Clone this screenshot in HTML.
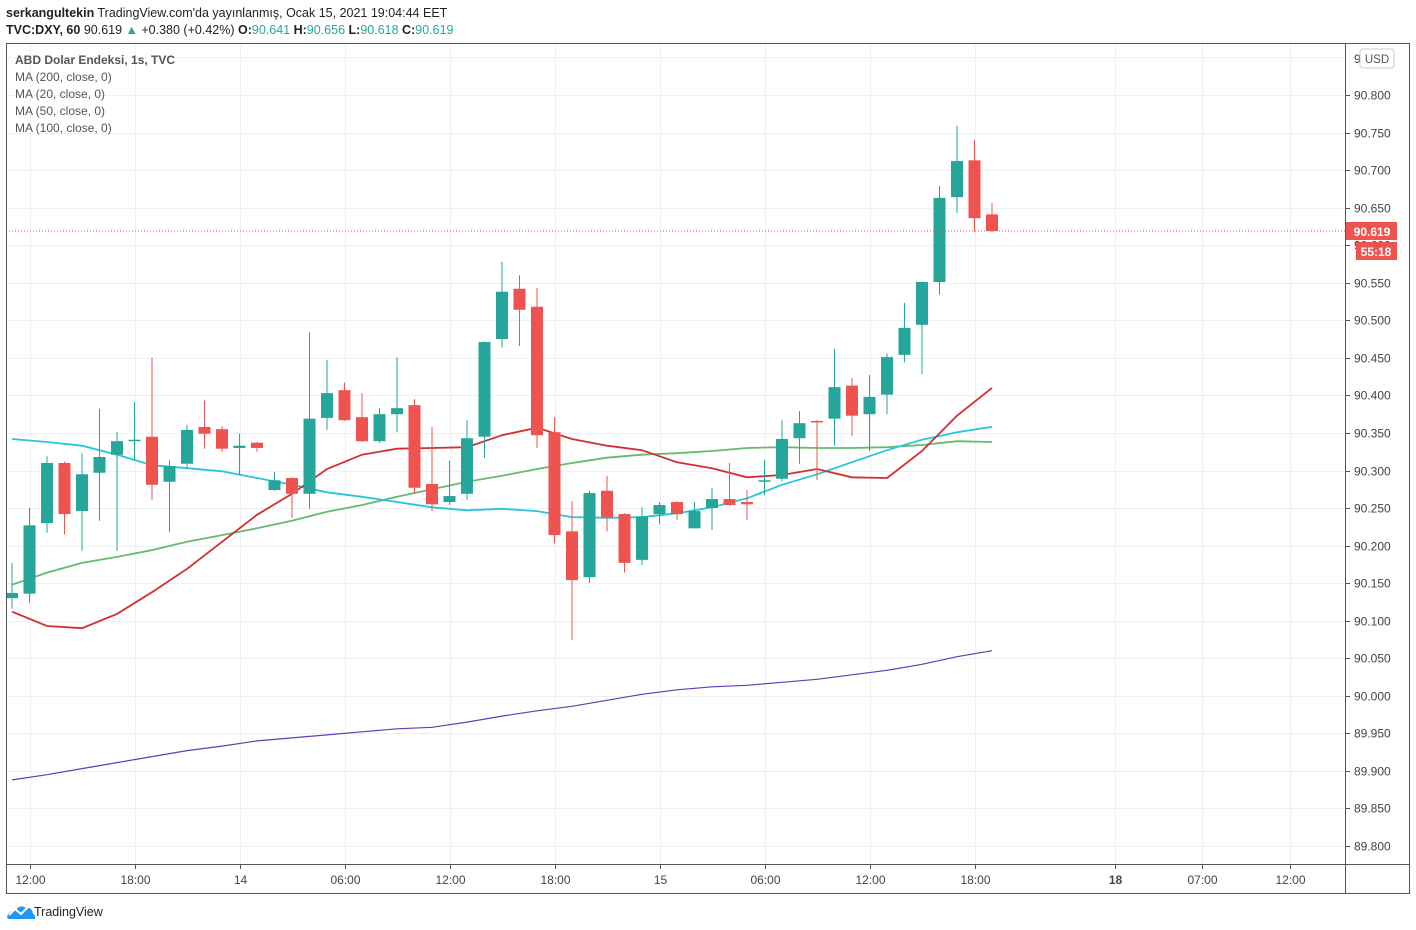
<!DOCTYPE html>
<html><head><meta charset="utf-8">
<style>
body{margin:0;background:#fff;width:1416px;height:930px;overflow:hidden;font-family:"Liberation Sans",sans-serif;}
svg{position:absolute;left:0;top:0}
text{font-family:"Liberation Sans",sans-serif}
</style></head>
<body>
<svg id="chart" width="1416" height="930">
<text x="6" y="17" font-size="12.5" fill="#222"><tspan font-weight="bold">serkangultekin</tspan> TradingView.com'da yayınlanmış, Ocak 15, 2021 19:04:44 EET</text>
<text x="6" y="34" font-size="12.5" fill="#222"><tspan font-weight="bold">TVC:DXY, 60</tspan> 90.619 <tspan fill="#26a69a">▲</tspan> +0.380 (+0.42%) <tspan font-weight="bold">O:</tspan><tspan fill="#26a69a">90.641</tspan> <tspan font-weight="bold">H:</tspan><tspan fill="#26a69a">90.656</tspan> <tspan font-weight="bold">L:</tspan><tspan fill="#26a69a">90.618</tspan> <tspan font-weight="bold">C:</tspan><tspan fill="#26a69a">90.619</tspan></text>
<g id="grid"></g>
<g id="mas"></g>
<g id="candles"></g>
<line x1="6" y1="231" x2="1345" y2="231" stroke="#ef5350" stroke-dasharray="1,2" stroke-width="1"/>
<rect x="6.5" y="43.5" width="1403" height="850" fill="none" stroke="#555"/>
<line x1="1345.5" y1="43" x2="1345.5" y2="893" stroke="#555"/>
<line x1="6" y1="864.5" x2="1409" y2="864.5" stroke="#555"/>
<g id="yaxis"></g>
<g id="xaxis"></g>
<g font-size="12" fill="#555">
<text x="15" y="64" font-weight="bold">ABD Dolar Endeksi, 1s, TVC</text>
<text x="15" y="81">MA (200, close, 0)</text>
<text x="15" y="98">MA (20, close, 0)</text>
<text x="15" y="115">MA (50, close, 0)</text>
<text x="15" y="132">MA (100, close, 0)</text>
</g>
<rect x="1360" y="49" width="34" height="19" rx="3" fill="#fff" stroke="#ccc"/>
<text x="1377" y="63" font-size="11.5" fill="#555" text-anchor="middle">USD</text>
<rect x="1346" y="222" width="51" height="18" fill="#ef5350"/>
<text x="1372" y="236" font-size="12" fill="#fff" font-weight="bold" text-anchor="middle">90.619</text>
<rect x="1356" y="242" width="41" height="18" fill="#ef5350"/>
<text x="1376" y="256" font-size="12" fill="#fff" font-weight="bold" text-anchor="middle">55:18</text>
<g>
<path d="M7 917 q2-7 9-7 q4-6 10-2 q6-1 7 6 q3 1 2 5 h-27 z" fill="#2196f3"/>
<polyline points="9,915 15,909 21,914 29,906" fill="none" stroke="#fff" stroke-width="2"/>
<text x="34" y="916" font-size="12.5" fill="#222">TradingView</text>
</g>
</svg>
<script>
const opens=[90.130,90.136,90.230,90.310,90.246,90.297,90.321,90.340,90.345,90.285,90.309,90.358,90.355,90.330,90.337,90.274,90.290,90.269,90.370,90.407,90.371,90.339,90.375,90.387,90.282,90.258,90.269,90.345,90.475,90.542,90.518,90.351,90.219,90.158,90.273,90.242,90.181,90.242,90.258,90.223,90.250,90.262,90.258,90.285,90.289,90.343,90.366,90.369,90.413,90.375,90.401,90.454,90.494,90.551,90.664,90.713,90.641];
const highs=[90.177,90.250,90.319,90.312,90.323,90.382,90.351,90.391,90.450,90.314,90.361,90.393,90.359,90.349,90.338,90.298,90.291,90.484,90.447,90.417,90.403,90.383,90.451,90.395,90.358,90.313,90.367,90.472,90.578,90.560,90.543,90.371,90.259,90.273,90.293,90.243,90.251,90.258,90.259,90.258,90.277,90.310,90.274,90.314,90.367,90.379,90.367,90.462,90.423,90.427,90.456,90.523,90.552,90.679,90.759,90.740,90.656];
const lows=[90.116,90.124,90.217,90.215,90.193,90.233,90.193,90.314,90.261,90.218,90.303,90.329,90.325,90.294,90.325,90.273,90.237,90.249,90.354,90.366,90.338,90.337,90.351,90.269,90.246,90.254,90.261,90.317,90.464,90.466,90.330,90.203,90.074,90.150,90.219,90.164,90.174,90.229,90.234,90.223,90.221,90.253,90.234,90.267,90.286,90.309,90.287,90.333,90.346,90.326,90.375,90.444,90.428,90.534,90.643,90.618,90.618];
const closes=[90.137,90.227,90.310,90.242,90.295,90.318,90.339,90.341,90.281,90.306,90.354,90.349,90.329,90.333,90.330,90.287,90.269,90.369,90.403,90.367,90.339,90.375,90.383,90.277,90.255,90.266,90.343,90.471,90.538,90.514,90.347,90.214,90.154,90.270,90.237,90.177,90.239,90.254,90.242,90.246,90.262,90.254,90.255,90.287,90.342,90.363,90.365,90.411,90.373,90.398,90.451,90.490,90.551,90.663,90.712,90.636,90.619];
// moving averages sampled every 2 candles
const ma20=[90.112,90.093,90.090,90.109,90.138,90.169,90.205,90.241,90.269,90.302,90.321,90.329,90.330,90.331,90.347,90.357,90.342,90.333,90.327,90.311,90.303,90.291,90.294,90.302,90.291,90.290,90.326,90.373,90.410];
const ma50=[90.148,90.164,90.177,90.185,90.194,90.205,90.214,90.223,90.233,90.245,90.254,90.265,90.275,90.285,90.293,90.302,90.310,90.317,90.321,90.323,90.326,90.330,90.331,90.330,90.330,90.331,90.334,90.339,90.338];
const ma100=[90.342,90.338,90.333,90.321,90.307,90.303,90.299,90.290,90.281,90.271,90.265,90.258,90.251,90.247,90.249,90.246,90.238,90.237,90.238,90.243,90.251,90.263,90.281,90.295,90.311,90.327,90.341,90.351,90.358];
const ma200=[89.888,89.895,89.903,89.911,89.919,89.927,89.933,89.940,89.944,89.948,89.952,89.956,89.958,89.965,89.973,89.980,89.986,89.994,90.002,90.008,90.012,90.014,90.018,90.022,90.028,90.034,90.042,90.052,90.060];
const priceTicks=["90.800","90.750","90.700","90.650","90.600","90.550","90.500","90.450","90.400","90.350","90.300","90.250","90.200","90.150","90.100","90.050","90.000","89.950","89.900","89.850","89.800"];
const timeLabels=["12:00","18:00","14","06:00","12:00","18:00","15","06:00","12:00","18:00","18","07:00","12:00"];
const timeSlots=[1,7,13,19,25,31,37,43,49,55,63,68,73];
const boldLabels=["14","15","18"];

const NS="http://www.w3.org/2000/svg";
const y=p=>95+(90.8-p)*751;
const x=i=>12+17.5*i;
function mk(tag,attrs,parent){const e=document.createElementNS(NS,tag);for(const k in attrs)e.setAttribute(k,attrs[k]);parent.appendChild(e);return e;}
const grid=document.getElementById('grid'),ya=document.getElementById('yaxis'),xa=document.getElementById('xaxis');
mk('line',{x1:6,x2:1345,y1:y(90.85),y2:y(90.85),stroke:'#eef0f3'},grid);
priceTicks.forEach(t=>{
  const yy=Math.round(y(parseFloat(t)))+0.5;
  const g=mk('line',{x1:6,x2:1345,y1:yy,y2:yy,stroke:'#eef0f3'},grid);
  
  
  mk('line',{x1:1345,x2:1350,y1:yy,y2:yy,stroke:'#555'},ya);
  const tx=mk('text',{x:1354,y:yy+4,'font-size':12,fill:'#444'},ya);
  tx.textContent=t;
  
  
});
const topLbl=mk('text',{x:1354,y:63,'font-size':12,fill:'#444'},ya);
topLbl.textContent='9';
timeLabels.forEach((t,k)=>{
  const xx=Math.round(x(timeSlots[k]))+0.5;
  const g=mk('line',{x1:xx,x2:xx,y1:44,y2:864,stroke:'#eef0f3'},grid);
  
  
  mk('line',{x1:xx,x2:xx,y1:864,y2:869,stroke:'#555'},xa);
  const tx=mk('text',{x:xx,y:884,'font-size':12,fill:'#444','text-anchor':'middle'},xa);
  if(boldLabels.includes(t)&&k>9)tx.setAttribute('font-weight','bold');
  tx.textContent=t;
  
  
});
const mas=document.getElementById('mas');
[[ma200,'#673ab7','ma200-line'],[ma50,'#66bb6a','ma50-line'],[ma100,'#26c6da','ma100-line'],[ma20,'#d32f2f','ma20-line']].forEach(([arr,col,nm])=>{
  const pts=arr.map((v,k)=>x(2*k).toFixed(1)+','+y(v).toFixed(1)).join(' ');
  const pl=mk('polyline',{points:pts,fill:'none',stroke:col,'stroke-width':nm=='ma200-line'?1.2:1.8},mas);
  
  
});
const cg=document.getElementById('candles');
opens.forEach((o,i)=>{
  const c=closes[i],up=c>=o,col=up?'#26a69a':'#ef5350',cx=x(i);
  const g=mk('g',{},cg);
  
  
  mk('line',{x1:cx,x2:cx,y1:y(highs[i]),y2:y(lows[i]),stroke:col,'stroke-width':1},g);
  const t=y(Math.max(o,c)),b=y(Math.min(o,c));
  mk('rect',{x:cx-6,y:t,width:12,height:Math.max(b-t,1.5),fill:col},g);
});
</script>
</body></html>
